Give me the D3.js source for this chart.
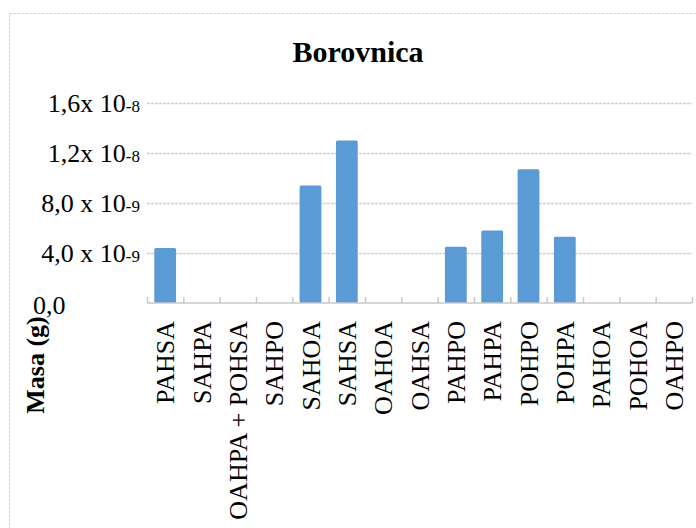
<!DOCTYPE html>
<html>
<head>
<meta charset="utf-8">
<script src="https://cdn.jsdelivr.net/npm/d3@7"></script>
<style>
  body { margin: 0; background: #fff; }
  text { font-family: "Liberation Serif", "Times New Roman", serif; fill: #000; }
</style>
</head>
<body>
<div id="container"></div>
<script>
const w = 696;
const h = 528;

const categories = ["PAHSA", "SAHPA", "OAHPA + POHSA", "SAHPO", "SAHOA", "SAHSA", "OAHOA",
  "OAHSA", "PAHPO", "PAHPA", "POHPO", "POHPA", "PAHOA", "POHOA", "OAHPO"];
const masses = [4.4e-9, 0, 0, 0, 9.4e-9, 1.3e-8, 0, 0, 4.5e-9, 5.8e-9, 1.07e-8, 5.3e-9, 0, 0, 0];
const yTicks = [0, 4e-9, 8e-9, 1.2e-8, 1.6e-8];
const yTickMantissa = ["0,0", "4,0 x 10", "8,0 x 10", "1,2x 10", "1,6x 10"];
const yTickExponent = ["", "-9", "-9", "-8", "-8"];

const plotL = 147;
const plotR = 692;
const plotTop = 103;
const plotBottom = 303;

const svg = d3.select("#container")
  .append("svg")
  .attr("width", w)
  .attr("height", h);

// chart area border
svg.append("rect")
  .attr("x", 9.5)
  .attr("y", 13.5)
  .attr("width", 720)
  .attr("height", 540)
  .attr("fill", "#fff")
  .attr("stroke", "#d4d4d4")
  .attr("stroke-dasharray", "3,1");

svg.append("text")
  .text("Borovnica")
  .attr("x", 358)
  .attr("y", 62)
  .attr("text-anchor", "middle")
  .style("font-size", "30px")
  .style("font-weight", "bold");

const xScale = d3.scaleBand()
  .domain(categories)
  .range([plotL, plotR])
  .paddingInner(0.4)
  .paddingOuter(0.2);

const yScale = d3.scaleLinear()
  .domain([0, 1.6e-8])
  .range([plotBottom, plotTop]);

// gridlines
svg.append("g")
  .selectAll("line")
  .data(yTicks.slice(1))
  .enter()
  .append("line")
  .attr("x1", plotL)
  .attr("x2", plotR)
  .attr("y1", d => Math.round(yScale(d)) + 0.5)
  .attr("y2", d => Math.round(yScale(d)) + 0.5)
  .attr("stroke", "#cfcfcf")
  .attr("stroke-width", 1.5)
  .attr("stroke-dasharray", "3,1");

// y tick labels with exponent
const yLabels = svg.append("g")
  .selectAll("text")
  .data(yTicks)
  .enter()
  .append("text")
  .attr("x", (d, i) => i === 0 ? 33 : 140)
  .attr("y", (d, i) => yScale(d) + (i === 0 ? 2 : 0))
  .attr("dy", "0.35em")
  .attr("text-anchor", (d, i) => i === 0 ? "start" : "end")
  .style("font-size", "26px");
yLabels.append("tspan").text((d, i) => yTickMantissa[i]);
yLabels.append("tspan")
  .text((d, i) => yTickExponent[i])
  .style("font-size", "17px");

// bars
svg.append("g")
  .selectAll("rect")
  .data(masses)
  .enter()
  .filter(d => d > 0)
  .append("rect")
  .attr("x", (d, i) => xScale(categories[masses.indexOf(d)]))
  .attr("y", d => yScale(d))
  .attr("width", xScale.bandwidth())
  .attr("height", d => yScale(0) - yScale(d))
  .attr("rx", 1.5)
  .attr("fill", "#5b9bd5");

// x axis with ticks between categories
const xAxisScale = d3.scaleLinear()
  .domain([0, categories.length])
  .range([plotL, plotR]);
const xAxis = d3.axisBottom(xAxisScale)
  .tickValues(d3.range(categories.length + 1))
  .tickSize(6)
  .tickFormat("");
const xAxisG = svg.append("g")
  .attr("transform", `translate(0, ${plotBottom - 6})`)
  .call(xAxis);
xAxisG.select(".domain").remove();
xAxisG.selectAll(".tick line")
  .attr("stroke", "#c8c8c8")
  .attr("stroke-width", 1.5);
svg.append("line")
  .attr("x1", plotL)
  .attr("x2", plotR)
  .attr("y1", plotBottom)
  .attr("y2", plotBottom)
  .attr("stroke", "#c8c8c8")
  .attr("stroke-width", 1.5);

// x category labels, rotated
svg.append("g")
  .selectAll("text")
  .data(categories)
  .enter()
  .append("text")
  .text(d => d)
  .attr("transform", "rotate(-90)")
  .attr("x", -321)
  .attr("y", d => xScale(d) + xScale.bandwidth() / 2)
  .attr("dy", "0.35em")
  .attr("text-anchor", "end")
  .style("font-size", "26px");

svg.append("text")
  .text("Masa (g)")
  .attr("transform", "translate(44, 365) rotate(-90)")
  .attr("text-anchor", "middle")
  .style("font-size", "26px")
  .style("font-weight", "bold");
</script>
</body>
</html>
